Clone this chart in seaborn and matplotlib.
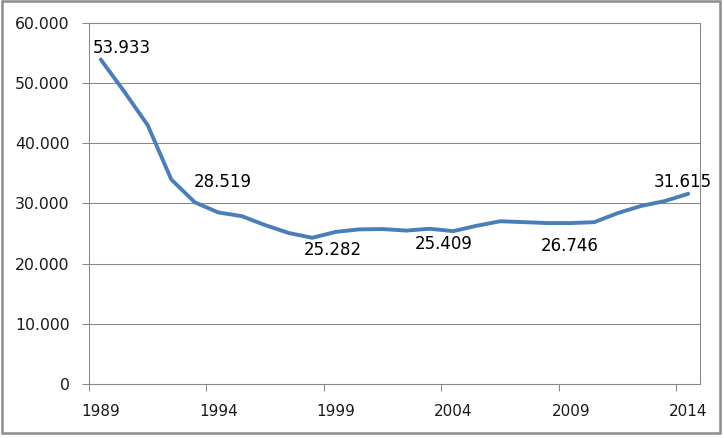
import matplotlib
matplotlib.use("Agg")
import matplotlib.pyplot as plt
from matplotlib.ticker import FixedLocator, FuncFormatter
from matplotlib.patches import Rectangle
import seaborn as sns
import pandas as pd

# ---- data ----
years = list(range(1989, 2015))
values = [53933, 48600, 43000, 34000, 30200, 28519, 27900, 26400, 25100, 24300,
          25282, 25700, 25750, 25500, 25800, 25409, 26300, 27050, 26900, 26750,
          26746, 26900, 28400, 29600, 30400, 31615]
label_years = [1989, 1994, 1999, 2004, 2009, 2014]
label_texts = ["53.933", "28.519", "25.282", "25.409", "26.746", "31.615"]
xtick_years = [1989, 1994, 1999, 2004, 2009, 2014]
yticks = [0, 10000, 20000, 30000, 40000, 50000, 60000]

# label offsets in pixels (dx, dy up) – layout only
label_offsets_px = [(21, 6.7), (5, 25.7), (-3, -23), (-9.5, -18), (-1, -28), (-5, 7)]

df = pd.DataFrame({"year": years, "value": values})

sns.set_style("white")
plt.rcParams["font.family"] = ["DejaVu Sans"]

W, H = 724, 438
fig = plt.figure(figsize=(W / 100, H / 100), dpi=100)
ax = fig.add_axes([89 / W, (H - 384) / H, (700 - 89) / W, (384 - 23) / H])

grid_col = "#878787"
sns.lineplot(data=df, x="year", y="value", ax=ax, color="#4A7EBB", linewidth=2.8,
             solid_joinstyle="round", solid_capstyle="round")

ax.set_xlim(1988.5, 2014.5)
ax.set_ylim(0, 60000)
ax.set_xlabel("")
ax.set_ylabel("")

ax.yaxis.set_major_locator(FixedLocator(yticks))
ax.yaxis.set_major_formatter(FuncFormatter(lambda v, p: f"{int(round(v)):,}".replace(",", ".")))
ax.yaxis.grid(True, color=grid_col, linewidth=0.75)
ax.set_axisbelow(True)

ax.xaxis.set_major_locator(FixedLocator(xtick_years))
ax.xaxis.set_major_formatter(FuncFormatter(lambda v, p: f"{int(round(v))}"))
ax.xaxis.set_minor_locator(FixedLocator([y - 0.5 for y in xtick_years]))

ax.tick_params(axis="x", which="major", length=0, pad=14.5, labelsize=11, labelcolor="#1a1a1a")
ax.tick_params(axis="x", which="minor", length=5, width=0.75, color=grid_col, direction="out")
ax.tick_params(axis="y", which="major", length=5, width=0.75, color=grid_col, direction="out",
               pad=9, labelsize=11.3, labelcolor="#1a1a1a")
ax.tick_params(left=True, bottom=True)
ax.xaxis.set_tick_params(which="minor", bottom=True)

for s in ax.spines.values():
    s.set_visible(True)
    s.set_color(grid_col)
    s.set_linewidth(0.75)

for yr, txt, (dx, dy) in zip(label_years, label_texts, label_offsets_px):
    v = values[years.index(yr)]
    ax.annotate(txt, xy=(yr, v), xytext=(dx * 0.72, dy * 0.72), textcoords="offset points",
                ha="center", va="baseline", fontsize=12, color="black")

# outer chart frame
fig.patches.append(Rectangle((2 / W, (H - 433) / H), (720 - 2) / W, (433 - 1) / H,
                             transform=fig.transFigure, fill=False,
                             edgecolor="#8c8c8c", linewidth=1.8))

fig.savefig("out.png", dpi=100)
